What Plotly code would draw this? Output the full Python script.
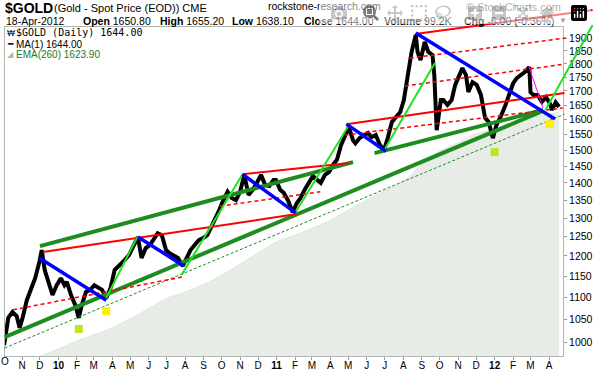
import plotly.graph_objects as go
import pandas as pd

W, H = 593, 370

# ---------------- data ----------------
price_dates = ["2009-10-02","2009-10-09","2009-10-16","2009-10-23","2009-10-28","2009-11-02","2009-11-09",
"2009-11-16","2009-11-23","2009-11-30","2009-12-04","2009-12-09","2009-12-16","2009-12-22","2009-12-29",
"2010-01-05","2010-01-11","2010-01-15","2010-01-22","2010-01-29","2010-02-04","2010-02-09","2010-02-16",
"2010-02-23","2010-03-02","2010-03-08","2010-03-15","2010-03-22","2010-03-29","2010-04-05","2010-04-14",
"2010-04-22","2010-04-29","2010-05-05","2010-05-14","2010-05-20","2010-05-27","2010-06-03","2010-06-09",
"2010-06-16","2010-06-23","2010-06-30","2010-07-06","2010-07-13","2010-07-20","2010-07-28","2010-08-04",
"2010-08-10","2010-08-17","2010-08-24","2010-08-31","2010-09-07","2010-09-13","2010-09-20","2010-09-27",
"2010-10-04","2010-10-11","2010-10-18","2010-10-25","2010-11-01","2010-11-08","2010-11-15","2010-11-22",
"2010-11-29","2010-12-06","2010-12-13","2010-12-20","2010-12-27","2010-12-31","2011-01-07","2011-01-13",
"2011-01-20","2011-01-28","2011-02-04","2011-02-10","2011-02-17","2011-02-24","2011-03-03","2011-03-10",
"2011-03-16","2011-03-23","2011-03-30","2011-04-05","2011-04-12","2011-04-19","2011-04-26","2011-05-02",
"2011-05-09","2011-05-13","2011-05-20","2011-05-27","2011-06-03","2011-06-09","2011-06-16","2011-06-23",
"2011-06-30","2011-07-06","2011-07-13","2011-07-20","2011-07-27","2011-08-02","2011-08-09","2011-08-15",
"2011-08-22","2011-08-25","2011-08-30","2011-09-06","2011-09-12","2011-09-19","2011-09-22","2011-09-26",
"2011-10-03","2011-10-07","2011-10-14","2011-10-21","2011-10-27","2011-11-03","2011-11-08","2011-11-14",
"2011-11-18","2011-11-25","2011-12-02","2011-12-09","2011-12-16","2011-12-22","2011-12-29","2012-01-04",
"2012-01-11","2012-01-18","2012-01-25","2012-02-01","2012-02-07","2012-02-14","2012-02-21","2012-02-28",
"2012-03-01","2012-03-06","2012-03-13","2012-03-20","2012-03-27","2012-04-02","2012-04-06","2012-04-12",
"2012-04-17","2012-04-18"]
price_vals = [994,1053,1066,1057,1031,1053,1093,1117,1145,1185,1215,1165,1128,1105,1128,
1145,1128,1136,1105,1082,1053,1082,1112,1117,1128,1124,1117,1098,1121,1165,1177,
1190,1202,1223,1249,1195,1220,1228,1241,1259,1254,1215,1207,1202,1195,1175,1197,
1215,1228,1241,1246,1254,1273,1295,1322,1350,1374,1356,1350,1374,1424,1365,1380,
1400,1424,1394,1391,1409,1409,1380,1371,1350,1316,1342,1356,1380,1400,1421,1409,
1400,1424,1433,1454,1470,1517,1549,1575,1532,1522,1539,1549,1556,1542,1549,1517,
1501,1539,1592,1609,1626,1668,1758,1846,1913,1846,1815,1885,1846,1834,1758,1565,
1668,1668,1651,1668,1722,1758,1784,1758,1696,1732,1722,1686,1606,1592,1539,1582,
1609,1644,1686,1728,1747,1758,1770,1788,1696,1686,1686,1661,1678,1658,1633,1660,
1650,1644]

ema_dates = ["2009-12-01","2010-01-01","2010-02-01","2010-03-01","2010-04-01","2010-05-01","2010-06-01",
"2010-07-01","2010-08-01","2010-09-01","2010-10-01","2010-11-01","2010-12-01","2011-01-01","2011-02-01",
"2011-03-01","2011-04-01","2011-05-01","2011-06-01","2011-07-01","2011-08-01","2011-09-01","2011-10-01",
"2011-11-01","2011-12-01","2012-01-01","2012-02-01","2012-03-01","2012-04-01","2012-04-18"]
ema_vals = [971,986,1003,1016,1031,1051,1074,1097,1112,1130,1152,1180,1208,1236,1254,1272,1294,1322,1351,
1377,1404,1455,1498,1524,1553,1569,1585,1607,1619,1624]

# trend lines: (start date, start price, end date, end price)
dark_green_lines = [("2009-12-01",1225,"2011-05-09",1463),
                    ("2009-10-03",1011,"2012-03-22",1630),
                    ("2011-06-14",1491,"2012-03-22",1633)]
dark_green_dashed = [("2009-10-03",988,"2012-04-27",1619)]
red_solid = [("2009-12-06",1210,"2011-02-04",1311),
             ("2010-11-05",1426,"2011-05-03",1460),
             ("2011-04-28",1585,"2012-04-27",1693),
             ("2011-08-21",1917,"2012-06-13",2017)]
red_dashed = [("2009-10-17",1071,"2010-07-28",1148),
              ("2010-09-28",1333,"2011-03-15",1374),
              ("2011-04-25",1549,"2012-04-24",1640),
              ("2011-08-12",1822,"2012-04-29",1901),
              ("2011-08-04",1718,"2012-04-27",1799)]
lime_lines = [("2010-03-20",1093,"2010-05-14",1252),
              ("2010-07-26",1153,"2010-11-05",1426),
              ("2011-02-01",1314,"2011-05-01",1578),
              ("2011-06-28",1494,"2011-09-23",1803),
              ("2012-03-26",1633,"2012-06-13",1954)]
blue_lines = [("2009-11-30",1195,"2010-03-22",1093),
              ("2010-05-14",1249,"2010-07-30",1175),
              ("2010-11-05",1426,"2011-02-02",1314),
              ("2011-04-28",1585,"2011-07-03",1497),
              ("2011-08-22",1921,"2012-04-11",1602)]
magenta_lines = [("2012-02-27",1792,"2012-03-22",1640)]
sq_green_dates = ["2010-02-04","2012-01-01"]
sq_green_vals = [1028.5,1494]
sq_yellow_dates = ["2010-03-22","2012-04-02"]
sq_yellow_vals = [1068,1585]

y_ticks = list(range(1000,1901,50))
month_starts = pd.date_range("2009-11-01","2012-04-01",freq="MS")
month_letters = {1:"J",2:"F",3:"M",4:"A",5:"M",6:"J",7:"J",8:"A",9:"S",10:"O",11:"N",12:"D"}

# ---------------- axes calibration ----------------
base = pd.Timestamp("2009-10-01")
px_per_day = 0.5975
x_off = 3.5
def xdate(px):
    return base + pd.Timedelta(days=(px - x_off) / px_per_day)
L, R, T, B = 5, 563, 27, 356
px_per_dec = 1090.6
def ylog(py):
    return 3 + (342.3 - py) / px_per_dec
fmt = "%Y-%m-%d %H:%M:%S"
xr_main = [xdate(L).strftime(fmt), xdate(R).strftime(fmt)]
xr_full = [xdate(0).strftime(fmt), xdate(W).strftime(fmt)]
yr_main = [ylog(B), ylog(T)]
yr_full = [ylog(H), ylog(0)]

fig = go.Figure()

# EMA(260) area
fig.add_trace(go.Scatter(x=ema_dates, y=[900]*len(ema_dates), mode="lines",
                         line=dict(width=0), hoverinfo="skip", showlegend=False))
fig.add_trace(go.Scatter(x=ema_dates, y=ema_vals, mode="lines", fill="tonexty",
                         fillcolor="#e7ede6", line=dict(color="#e0e8df", width=1, shape="spline"),
                         showlegend=False))
# price
fig.add_trace(go.Scatter(x=price_dates, y=price_vals, mode="lines",
                         line=dict(color="black", width=4), showlegend=False))

def add_lines(lines, color, width, dash="solid"):
    for d0, p0, d1, p1 in lines:
        fig.add_trace(go.Scatter(x=[d0, d1], y=[p0, p1], mode="lines", xaxis="x2", yaxis="y2",
                                 line=dict(color=color, width=width, dash=dash), showlegend=False))

add_lines(dark_green_dashed, "#1e8c1e", 1, "3px,2px")
add_lines(dark_green_lines, "#1e8c1e", 4)
add_lines(red_dashed, "#ff0000", 1.5, "4px,3px")
add_lines(red_solid, "#ff0000", 2)
add_lines(lime_lines, "#22e022", 2)
add_lines(blue_lines, "#0000ff", 3.5)
add_lines(magenta_lines, "#ff00ff", 1)

fig.add_trace(go.Scatter(x=sq_green_dates, y=sq_green_vals, mode="markers", xaxis="x2", yaxis="y2",
                         marker=dict(symbol="square", size=8, color="#bde41f"), showlegend=False))
fig.add_trace(go.Scatter(x=sq_yellow_dates, y=sq_yellow_vals, mode="markers", xaxis="x2", yaxis="y2",
                         marker=dict(symbol="square", size=8, color="#ffee00"), showlegend=False))

ticktext = []
for d in month_starts:
    if d.month == 1:
        ticktext.append("<b>%02d</b>" % (d.year % 100))
    else:
        ticktext.append(month_letters[d.month])

fig.update_layout(
    width=W, height=H, margin=dict(l=0, r=0, t=0, b=0),
    paper_bgcolor="white", plot_bgcolor="rgba(0,0,0,0)",
    font=dict(family="Liberation Sans, Arial", size=10, color="black"),
    xaxis=dict(domain=[L / W, R / W], type="date", range=xr_main, tickvals=list(month_starts),
               ticktext=ticktext, ticks="outside", ticklen=3, tickcolor="#999999",
               ticklabelstandoff=-3,
               showgrid=False, zeroline=False, showline=True, linecolor="#b4b4b4", mirror=True,
               tickfont=dict(size=10), automargin=False, anchor="y"),
    yaxis=dict(domain=[1 - B / H, 1 - T / H], type="log", range=yr_main, side="right",
               tickvals=y_ticks, ticktext=[str(v) for v in y_ticks], ticks="outside", ticklen=3,
               tickcolor="#999999", showgrid=False, zeroline=False, showline=True,
               linecolor="#b4b4b4", mirror=True, tickfont=dict(size=10.5), automargin=False,
               anchor="x"),
    xaxis2=dict(domain=[0, 1], type="date", range=xr_full, visible=False, anchor="y2"),
    yaxis2=dict(domain=[0, 1], type="log", range=yr_full, visible=False, anchor="x2"),
)

def txt(px, py, s, size=10, color="black", family="Liberation Sans, Arial", anchor="left"):
    fig.add_annotation(x=px / W, y=1 - py / H, xref="paper", yref="paper", text=s, showarrow=False,
                       xanchor=anchor, yanchor="middle", font=dict(size=size, color=color, family=family))

txt(3, 8, "<b>$GOLD</b>", 14)
txt(52, 8, "(Gold - Spot Price (EOD)) CME", 11)
txt(266, 6, "rockstone-research.com", 10.5)
txt(563, 7, "© StockCharts.com", 11, "#666666", anchor="right")
txt(4, 21, "18-Apr-2012", 10.5)
txt(81, 21, "<b>Open</b> 1650.80", 10.5)
txt(158, 21, "<b>High</b> 1655.20", 10.5)
txt(230, 21, "<b>Low</b> 1638.10", 10.5)
txt(302, 21, "<b>Close</b> 1644.00", 10.5)
txt(382, 21, "<b>Volume</b> 99.2K", 10.5)
txt(462, 21, "<b>Chg</b> -6.00 (-0.36%)", 10.5)
txt(557, 21, "▼", 8, "#8b1a2b")
txt(5, 33, "₩", 8.5)
txt(14, 33, "$GOLD (Daily) 1644.00", 10, family="DejaVu Sans Mono")
txt(5, 44, "━", 8.5)
txt(14, 44, "MA(1) 1644.00", 10)
txt(5, 54, "◢", 7.5, "#9cc79c")
txt(14, 54, "EMA(260) 1623.90", 10, "#1e7a1e")
txt(4.5, 361, "O", 10, anchor="center")

fig.write_html("out.html", post_script="document.body.style.margin='0px';document.body.style.overflow='hidden';")
